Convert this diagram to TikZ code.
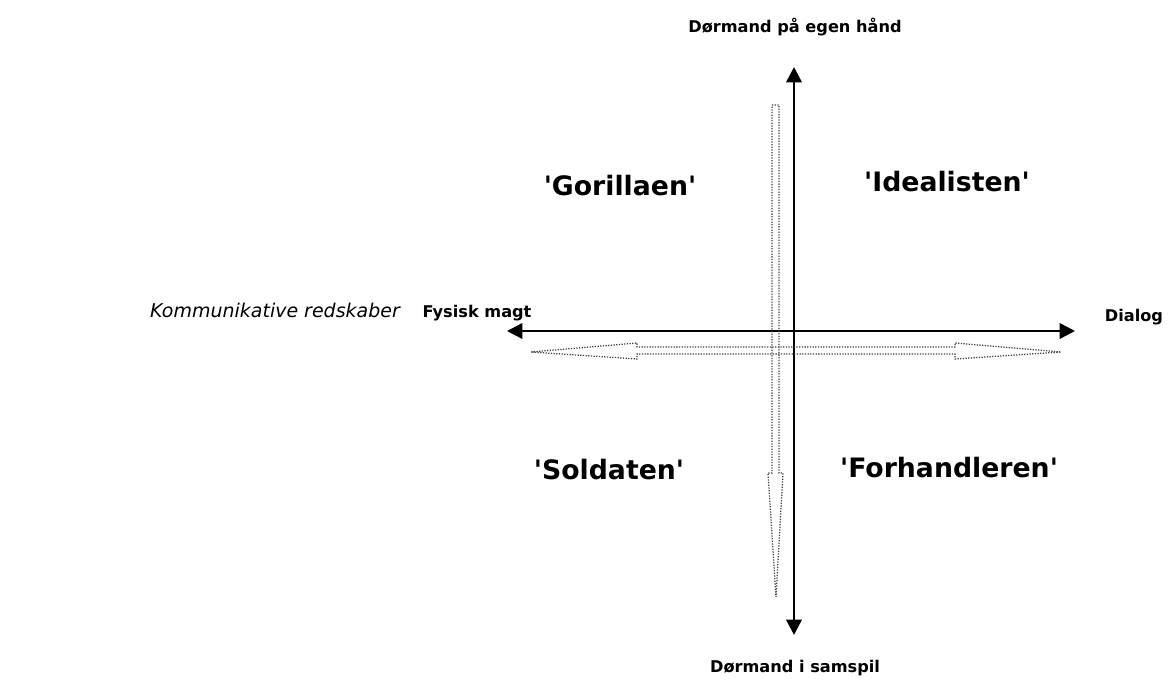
\documentclass[tikz,border=0pt]{standalone}
\usepackage{fontspec}
\setmainfont{DejaVu Sans}
\usetikzlibrary{arrows.meta}

\begin{document}
\begin{tikzpicture}[x=0.025cm, y=-0.025cm, >={Triangle[length=11pt, width=11pt]},
    axis/.style={<->, line width=1.8pt},
    hollow/.style={densely dotted, line width=0.9pt, black!75},
    pole/.style={font=\fontsize{11.5}{13}\selectfont\bfseries},
    role/.style={font=\fontsize{19}{22}\selectfont\bfseries},
    note/.style={font=\fontsize{13.5}{16}\selectfont\itshape}]
  \useasboundingbox (0, 0) rectangle (1171, 681);

  % poles
  \node[pole] (own)    at (795, 27)  {Dørmand på egen hånd};
  \node[pole] (joint)  at (795, 668) {Dørmand i samspil};
  \node[pole] (force)  at (477, 313) {Fysisk magt};
  \node[pole] (dialog) at (1134, 317) {Dialog};
  \node[note] (tools)  at (275, 310) {Kommunikative redskaber};

  % quadrants
  \node[role] (gorilla)    at (620, 186) {\textquotesingle Gorillaen\textquotesingle};
  \node[role] (idealist)   at (947, 182) {\textquotesingle Idealisten\textquotesingle};
  \node[role] (soldier)    at (609, 470) {\textquotesingle Soldaten\textquotesingle};
  \node[role] (negotiator) at (949, 468) {\textquotesingle Forhandleren\textquotesingle};

  % axis ends
  \coordinate (ytop) at (794, 67);
  \coordinate (ybot) at (794, 635);
  \coordinate (xlft) at (507, 331);
  \coordinate (xrgt) at (1075, 331);

  \draw[axis] (ybot) -- (ytop);
  \draw[axis] (xlft) -- (xrgt);

  % hollow arrows
  \draw[hollow] (772, 105) -- (779, 105) -- (779, 473) -- (783, 473)
    -- (776, 597) -- (768, 473) -- (772, 473) -- cycle;
  \draw[hollow] (531, 352) -- (637, 343) -- (637, 347) -- (955, 347)
    -- (955, 343) -- (1061, 352) -- (955, 359) -- (955, 354)
    -- (637, 354) -- (637, 359) -- cycle;
\end{tikzpicture}
\end{document}
